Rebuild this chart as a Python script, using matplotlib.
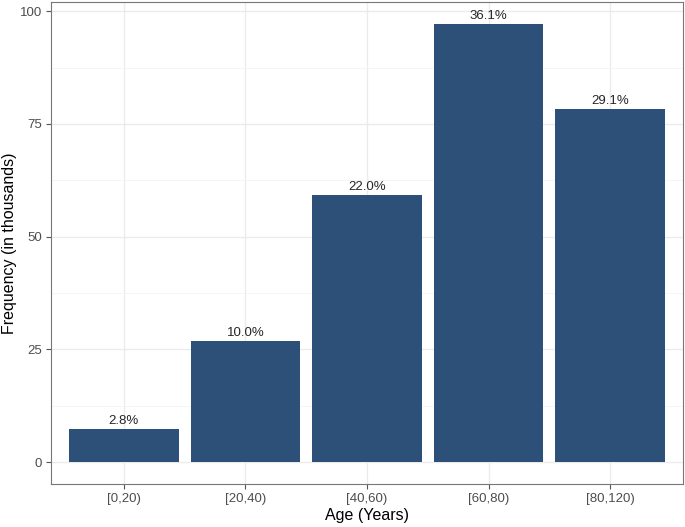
import matplotlib
matplotlib.use("Agg")
import matplotlib.pyplot as plt
from matplotlib.ticker import MultipleLocator

categories = ["[0,20)", "[20,40)", "[40,60)", "[60,80)", "[80,120)"]
freq = [7.4, 26.9, 59.2, 97.2, 78.4]
labels = ["2.8%", "10.0%", "22.0%", "36.1%", "29.1%"]

plt.rcParams['font.family'] = ['Liberation Sans', 'DejaVu Sans']

fig = plt.figure(figsize=(6.85, 5.27), dpi=100)
ax = fig.add_axes([51/685, 43/527, 632/685, 482/527])

x = list(range(1, len(categories) + 1))
ax.bar(x, freq, width=0.9, color="#2c5077", zorder=3)
for xi, v, lab in zip(x, freq, labels):
    ax.annotate(lab, (xi, v), xytext=(0, 1.5), textcoords="offset points",
                ha="center", va="bottom", fontsize=9.5, color="#262626", zorder=4)

ymax = max(freq)
ax.set_xlim(0.4, len(categories) + 0.6)
ax.set_ylim(-0.05 * ymax, ymax * 1.05)
ax.set_xticks(x)
ax.set_xticklabels(categories)
ax.yaxis.set_major_locator(MultipleLocator(25))
ax.yaxis.set_minor_locator(MultipleLocator(12.5))

ax.grid(which="major", color="#EBEBEB", linewidth=1.0, zorder=0)
ax.grid(which="minor", axis="y", color="#F4F4F4", linewidth=0.6, zorder=0)
ax.tick_params(which="minor", length=0)
ax.tick_params(which="major", length=3.5, width=0.8, color="#555555",
               labelcolor="#4D4D4D", labelsize=9.5, pad=3)
for s in ax.spines.values():
    s.set_color("#777777")
    s.set_linewidth(0.8)

ax.set_xlabel("Age (Years)", fontsize=11.5, color="black", labelpad=2)
ax.set_ylabel("Frequency (in thousands)", fontsize=11.5, color="black")
ax.yaxis.set_label_coords(-0.0655, 0.5)
ax.yaxis.label.set_verticalalignment("center")

fig.savefig("out.png", dpi=100)
